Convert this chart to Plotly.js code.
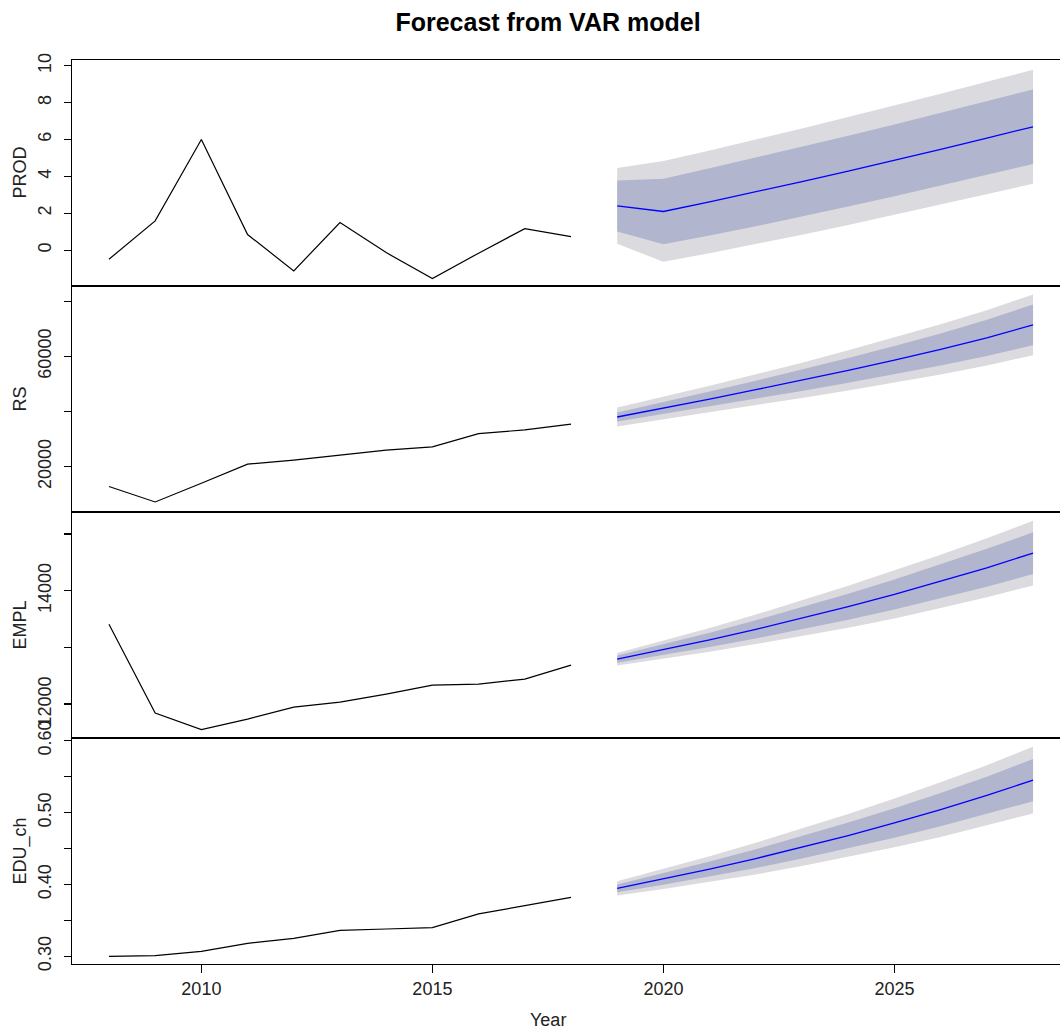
<!DOCTYPE html>
<html>
<head>
<meta charset="utf-8">
<script src="https://cdn.plot.ly/plotly-3.0.1.min.js"></script>
<style>
html,body{margin:0;padding:0;overflow:hidden;background:#fff;}
#chart{width:1080px;height:1029px;}
</style>
</head>
<body>
<div id="chart"></div>
<script>
// ---- data ----
const yearsHist = [2008, 2009, 2010, 2011, 2012, 2013, 2014, 2015, 2016, 2017, 2018];
const yearsFc = [2019, 2020, 2021, 2022, 2023, 2024, 2025, 2026, 2027, 2028];

const prodHist = [-0.49, 1.59, 6.0, 0.85, -1.12, 1.50, -0.13, -1.54, -0.16, 1.17, 0.74];
const prodMean = [2.40, 2.10, 2.62, 3.16, 3.72, 4.29, 4.87, 5.47, 6.08, 6.69];
const prodLo80 = [1.02, 0.32, 0.80, 1.30, 1.83, 2.37, 2.92, 3.50, 4.08, 4.67];
const prodHi80 = [3.78, 3.88, 4.44, 5.02, 5.61, 6.21, 6.82, 7.44, 8.08, 8.71];
const prodLo95 = [0.35, -0.63, -0.16, 0.33, 0.84, 1.36, 1.90, 2.46, 3.03, 3.60];
const prodHi95 = [4.45, 4.83, 5.40, 5.99, 6.60, 7.22, 7.84, 8.48, 9.13, 9.78];

const rsHist = [12800, 7200, 14000, 20900, 22400, 24200, 26000, 27200, 32000, 33300, 35400];
const rsMean = [38000, 41200, 44500, 47900, 51300, 54900, 58600, 62500, 66700, 71400];
const rsLo80 = [36350, 39050, 41800, 44650, 47450, 50450, 53500, 56700, 60150, 64000];
const rsHi80 = [39650, 43350, 47200, 51150, 55150, 59350, 63700, 68300, 73250, 78800];
const rsLo95 = [34600, 37100, 39700, 42300, 44900, 47600, 50400, 53400, 56700, 60400];
const rsHi95 = [41400, 45300, 49300, 53500, 57700, 62200, 66800, 71600, 76700, 82400];

const emplHist = [13407, 11842, 11550, 11736, 11947, 12035, 12176, 12334, 12352, 12440, 12686];
const emplMean = [12792, 12957, 13132, 13317, 13512, 13717, 13932, 14162, 14402, 14661];
const emplLo80 = [12727, 12862, 13007, 13157, 13317, 13487, 13667, 13862, 14067, 14294];
const emplHi80 = [12857, 13052, 13257, 13477, 13707, 13947, 14197, 14462, 14737, 15028];
const emplLo95 = [12682, 12797, 12922, 13057, 13197, 13347, 13507, 13692, 13882, 14091];
const emplHi95 = [12902, 13117, 13342, 13577, 13827, 14087, 14357, 14632, 14922, 15231];

const eduHist = [0.300, 0.301, 0.307, 0.318, 0.325, 0.336, 0.338, 0.340, 0.359, 0.371, 0.382];
const eduMean = [0.3945, 0.4075, 0.4213, 0.4360, 0.4516, 0.4681, 0.4856, 0.5042, 0.5240, 0.5452];
const eduLo80 = [0.3891, 0.3995, 0.4108, 0.4230, 0.4361, 0.4501, 0.4651, 0.4810, 0.4980, 0.5157];
const eduHi80 = [0.3999, 0.4155, 0.4318, 0.4490, 0.4671, 0.4861, 0.5061, 0.5274, 0.5500, 0.5747];
const eduLo95 = [0.3847, 0.3935, 0.4033, 0.4140, 0.4256, 0.4381, 0.4516, 0.4662, 0.4820, 0.4987];
const eduHi95 = [0.4043, 0.4215, 0.4393, 0.4580, 0.4776, 0.4981, 0.5196, 0.5422, 0.5660, 0.5917];

const seriesNames = ['PROD', 'RS', 'EMPL', 'EDU_ch'];
const xTickVals = [2010, 2015, 2020, 2025];
const prodTicks = [0, 2, 4, 6, 8, 10];
const prodTickText = ['0', '2', '4', '6', '8', '10'];
const rsTicks = [20000, 40000, 60000, 80000];
const rsTickText = ['20000', '', '60000', ''];
const emplTicks = [12000, 13000, 14000, 15000];
const emplTickText = ['12000', '', '14000', ''];
const eduTicks = [0.30, 0.35, 0.40, 0.45, 0.50, 0.55, 0.60];
const eduTickText = ['0.30', '', '0.40', '', '0.50', '', '0.60'];

// ---- styling ----
const FONT = 'Liberation Sans, Arial, sans-serif';
const GREY = 'rgb(219,219,223)';
const DARK = 'rgb(177,181,206)';

const panels = [
  {hist: prodHist, mean: prodMean, lo80: prodLo80, hi80: prodHi80, lo95: prodLo95, hi95: prodHi95,
   range: [-1.94, 10.31], tv: prodTicks, tt: prodTickText},
  {hist: rsHist, mean: rsMean, lo80: rsLo80, hi80: rsHi80, lo95: rsLo95, hi95: rsHi95,
   range: [3568, 85477], tv: rsTicks, tt: rsTickText},
  {hist: emplHist, mean: emplMean, lo80: emplLo80, hi80: emplHi80, lo95: emplLo95, hi95: emplHi95,
   range: [11402, 15386], tv: emplTicks, tt: emplTickText},
  {hist: eduHist, mean: eduMean, lo80: eduLo80, hi80: eduHi80, lo95: eduLo95, hi95: eduHi95,
   range: [0.2893, 0.6038], tv: eduTicks, tt: eduTickText}
];

const traces = [];
const layout = {
  width: 1080, height: 1029,
  margin: {l: 72, r: 10, t: 60, b: 65},
  paper_bgcolor: '#fff', plot_bgcolor: '#fff',
  showlegend: false,
  font: {family: FONT, color: '#000', size: 18},
  title: {text: '<b>Forecast from VAR model</b>', font: {family: FONT, size: 25, color: '#000'},
          xref: 'container', x: 548 / 1080, xanchor: 'center',
          yref: 'container', y: 1 - 22 / 1029, yanchor: 'middle'},
  annotations: []
};

const bandX = yearsFc.concat(yearsFc.slice().reverse());

panels.forEach((p, i) => {
  const n = i + 1;
  const xa = n === 1 ? 'x' : 'x' + n;
  const ya = n === 1 ? 'y' : 'y' + n;
  traces.push({x: bandX, y: p.hi95.concat(p.lo95.slice().reverse()), xaxis: xa, yaxis: ya,
    type: 'scatter', mode: 'lines', fill: 'toself', fillcolor: GREY, line: {width: 0, color: GREY}, hoverinfo: 'skip'});
  traces.push({x: bandX, y: p.hi80.concat(p.lo80.slice().reverse()), xaxis: xa, yaxis: ya,
    type: 'scatter', mode: 'lines', fill: 'toself', fillcolor: DARK, line: {width: 0, color: DARK}, hoverinfo: 'skip'});
  traces.push({x: yearsFc, y: p.mean, xaxis: xa, yaxis: ya, type: 'scatter', mode: 'lines',
    line: {color: '#0000FF', width: 1.3}});
  traces.push({x: yearsHist, y: p.hist, xaxis: xa, yaxis: ya, type: 'scatter', mode: 'lines',
    line: {color: '#000', width: 1.2}});

  const top = 1 - i * 0.25, bot = 1 - (i + 1) * 0.25;
  const isBottom = n === 4;
  layout[n === 1 ? 'xaxis' : 'xaxis' + n] = {
    domain: [0, 1], anchor: ya, range: [2007.2, 2028.8],
    showline: true, linecolor: '#000', linewidth: 1.4, mirror: true,
    showgrid: false, zeroline: false,
    ticks: isBottom ? 'outside' : '', ticklen: 8, tickwidth: 1.2, tickcolor: '#000',
    tickvals: xTickVals, showticklabels: isBottom,
    tickfont: {family: FONT, size: 18, color: '#222'},
    matches: n === 1 ? undefined : 'x'
  };
  layout[n === 1 ? 'yaxis' : 'yaxis' + n] = {
    domain: [bot, top], anchor: xa, range: p.range,
    showline: true, linecolor: '#000', linewidth: 1.4, mirror: true,
    showgrid: false, zeroline: false,
    ticks: 'outside', ticklen: 7, tickwidth: 1.2, tickcolor: '#000',
    tickvals: p.tv, ticktext: p.tt, tickangle: -90, ticklabelstandoff: 5,
    tickfont: {family: FONT, size: 18, color: '#222'}
  };
  layout.annotations.push({
    text: seriesNames[i], xref: 'paper', x: 0, xshift: -52.5, xanchor: 'center',
    yref: ya + ' domain', y: 0.5, yanchor: 'middle', textangle: -90, showarrow: false,
    font: {family: FONT, size: 18, color: '#222'}
  });
});

layout.annotations.push({
  text: 'Year', xref: 'paper', x: (548 - 72) / 998, xanchor: 'center',
  yref: 'paper', y: 0, yanchor: 'middle', yshift: -56, showarrow: false,
  font: {family: FONT, size: 18, color: '#222'}
});

Plotly.newPlot('chart', traces, layout, {displayModeBar: false, staticPlot: true});
</script>
</body>
</html>
